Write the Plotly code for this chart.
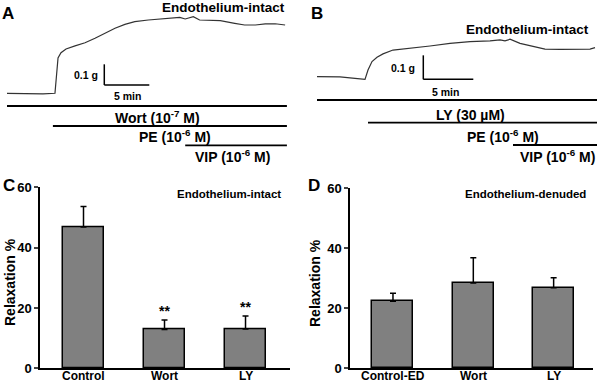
import plotly.graph_objects as go

W, H = 600, 383
FONT = "Liberation Sans, Arial, sans-serif"

# ---------------- data ----------------
# Panel A: tension trace (time in min, tension in g, relative to baseline)
a_time = [0, 4.0, 5.33, 5.56, 5.67, 6.0, 6.56, 7.56, 8.67, 9.78, 10.89, 12.0, 13.1, 14.2,
          15.7, 17.0, 18.1, 19.2, 19.8, 20.7, 21.4, 22.6, 23.7, 25.3, 26.4, 27.6, 28.7, 29.8, 30.9]
a_tension = [0, -0.003, 0, 0.113, 0.171, 0.196, 0.214, 0.229, 0.244, 0.266, 0.290, 0.314, 0.333, 0.346,
             0.354, 0.359, 0.362, 0.367, 0.359, 0.370, 0.354, 0.354, 0.351, 0.338, 0.330, 0.330, 0.335, 0.336, 0.330]
# Panel B: tension trace
b_time = [0, 2.3, 3.8, 4.8, 5.1, 5.5, 6.0, 6.6, 7.6, 9.3, 11.3, 13.3, 15.3, 17.3, 18.3, 18.8,
          19.3, 20.3, 21.3, 22.8, 24.3, 25.8, 27.3, 27.8]
b_tension = [0, -0.001, -0.007, -0.011, 0.028, 0.063, 0.081, 0.095, 0.111, 0.118, 0.128, 0.139, 0.146,
             0.149, 0.153, 0.149, 0.156, 0.139, 0.129, 0.115, 0.114, 0.115, 0.115, 0.121]

# drug applications: label, start time (min)
a_drugs = ["Wort (10<sup>-7</sup> M)", "PE (10<sup>-6</sup> M)", "VIP (10<sup>-6</sup> M)"]
a_drug_start = [0, 5.1, 19.8]
a_end = 31.1
b_drugs = ["LY (30 µM)", "PE (10<sup>-6</sup> M)", "VIP (10<sup>-6</sup> M)"]
b_drug_start = [-0.2, 5.1, 19.6]
b_end = 28.2

# Panel C / D: relaxation %
c_cats = ["Control", "Wort", "LY"]
c_mean = [46.8, 12.9, 13.0]
c_sem = [6.8, 3.1, 4.3]
c_sig = ["", "**", "**"]
d_cats = ["Control-ED", "Wort", "LY"]
d_mean = [22.3, 28.4, 26.8]
d_sem = [2.7, 8.4, 3.3]
y_ticks = [0, 20, 40, 60]


def px_x(p):
    return p / W


def px_y(p):
    return 1 - p / H


def bfont(size):
    return dict(family=FONT, size=size, color="black", weight="bold")


fig = go.Figure()

# ---------- traces A and B ----------
fig.add_trace(go.Scatter(x=a_time, y=a_tension, mode="lines", line=dict(color="#333", width=1.2),
                         xaxis="x3", yaxis="y3", showlegend=False, hoverinfo="skip"))
fig.add_trace(go.Scatter(x=b_time, y=b_tension, mode="lines", line=dict(color="#333", width=1.2),
                         xaxis="x4", yaxis="y4", showlegend=False, hoverinfo="skip"))

# ---------- bars C and D ----------
fig.add_trace(go.Bar(x=c_cats, y=c_mean, width=0.506,
                     marker=dict(color="#808080", line=dict(color="black", width=1.5)),
                     error_y=dict(type="data", symmetric=False, array=c_sem, arrayminus=[0] * 3,
                                  color="black", thickness=1.5, width=3),
                     xaxis="x", yaxis="y", showlegend=False))
fig.add_trace(go.Bar(x=d_cats, y=d_mean, width=0.51,
                     marker=dict(color="#808080", line=dict(color="black", width=1.5)),
                     error_y=dict(type="data", symmetric=False, array=d_sem, arrayminus=[0] * 3,
                                  color="black", thickness=1.5, width=3),
                     xaxis="x2", yaxis="y2", showlegend=False))

# significance stars
fig.add_trace(go.Scatter(x=c_cats, y=[m + s + 2.6 for m, s in zip(c_mean, c_sem)], text=c_sig,
                         mode="text", textfont=bfont(14),
                         xaxis="x", yaxis="y", showlegend=False, hoverinfo="skip"))

xcommon = dict(showgrid=False, zeroline=False, showline=True, linecolor="black", linewidth=1.5,
               ticks="", showticklabels=False, automargin=False)
ycommon = dict(showgrid=False, zeroline=False, showline=True, linecolor="black", linewidth=1.5,
               tickvals=y_ticks, range=[0, 60], ticks="outside", ticklen=4, tickwidth=1.5,
               tickfont=bfont(13), automargin=False)

fig.update_layout(
    width=W, height=H, autosize=False,
    margin=dict(l=0, r=0, t=0, b=0, pad=0),
    paper_bgcolor="white", plot_bgcolor="white",
    bargap=0,
    xaxis=dict(domain=[px_x(40), px_x(290)], range=[-0.537, 2.549], anchor="y", **xcommon),
    yaxis=dict(domain=[px_y(368.3), px_y(187.3)], anchor="x", **ycommon),
    xaxis2=dict(domain=[px_x(350), px_x(593)], range=[-0.535, 2.49], anchor="y2", **xcommon),
    yaxis2=dict(domain=[px_y(368.3), px_y(188)], anchor="x2", **ycommon),
    xaxis3=dict(domain=[px_x(7), px_x(287)], range=[0, 31.11], visible=False, anchor="y3"),
    yaxis3=dict(domain=[px_y(100), 1], range=[-0.0324, 0.4507], visible=False, anchor="x3"),
    xaxis4=dict(domain=[px_x(317), px_x(597)], range=[0, 28], visible=False, anchor="y4"),
    yaxis4=dict(domain=[px_y(100), 1], range=[-0.0971, 0.3196], visible=False, anchor="x4"),
)

shapes = []
# scale bars A (0.1 g, 5 min)
shapes.append(dict(type="line", xref="x3", yref="y3", x0=10.81, x1=10.81, y0=0.04, y1=0.14,
                   line=dict(color="black", width=1.5)))
shapes.append(dict(type="line", xref="x3", yref="y3", x0=10.81, x1=15.81, y0=0.04, y1=0.04,
                   line=dict(color="black", width=1.5)))
# scale bars B
shapes.append(dict(type="line", xref="x4", yref="y4", x0=10.63, x1=10.63, y0=-0.011, y1=0.089,
                   line=dict(color="black", width=1.5)))
shapes.append(dict(type="line", xref="x4", yref="y4", x0=10.63, x1=15.63, y0=-0.011, y1=-0.011,
                   line=dict(color="black", width=1.5)))

# drug application lines
a_line_y = [106, 126, 145.3]
b_line_y = [100, 122.7, 145]
for s, yy in zip(a_drug_start, a_line_y):
    shapes.append(dict(type="line", xref="x3", yref="paper", x0=s, x1=a_end, y0=px_y(yy), y1=px_y(yy),
                       line=dict(color="black", width=1.8)))
for s, yy in zip(b_drug_start, b_line_y):
    shapes.append(dict(type="line", xref="x4", yref="paper", x0=s, x1=b_end, y0=px_y(yy), y1=px_y(yy),
                       line=dict(color="black", width=1.8)))
fig.update_layout(shapes=shapes)


def ann(text, x, y, size=12, xanchor="center", angle=0):
    return dict(text=text, x=px_x(x), y=px_y(y), xref="paper", yref="paper", showarrow=False,
                xanchor=xanchor, yanchor="middle", textangle=angle, font=bfont(size))


anns = []
# panel letters
anns += [ann("A", 8, 14, 17), ann("B", 317, 14, 17),
         ann("C", 9, 185, 17), ann("D", 314, 185, 17)]
# panel titles
anns += [ann("Endothelium-intact", 287, 8, 13.5, "right"),
         ann("Endothelium-intact", 591, 29, 13.5, "right"),
         ann("Endothelium-intact", 283, 194, 11.5, "right"),
         ann("Endothelium-denuded", 588, 194, 11.5, "right")]
# scale labels
anns += [ann("0.1 g", 86, 75, 10.5), ann("5 min", 127, 96, 10.5),
         ann("0.1 g", 403, 68, 10.5), ann("5 min", 445, 92, 10.5)]
# drug labels
for t, (x, y) in zip(a_drugs, [(157, 117), (175, 136), (232, 156)]):
    anns.append(ann(t, x, y, 14))
for t, (x, y) in zip(b_drugs, [(470, 115), (503, 136), (557, 156)]):
    anns.append(ann(t, x, y, 14))
# y titles
anns += [ann("Relaxation %", 10, 282, 14, angle=-90),
         ann("Relaxation %", 315, 283, 14, angle=-90)]
# category labels (below each bar)
for c in c_cats:
    anns.append(dict(text=c, x=c, y=px_y(376), xref="x", yref="paper", showarrow=False,
                     yanchor="middle", font=bfont(12)))
for c in d_cats:
    anns.append(dict(text=c, x=c, y=px_y(376), xref="x2", yref="paper", showarrow=False,
                     yanchor="middle", font=bfont(12)))
fig.update_layout(annotations=anns)

fig.write_html("out.html", config={"displayModeBar": False},
               post_script="document.body.style.margin='0';document.body.style.overflow='hidden';")
